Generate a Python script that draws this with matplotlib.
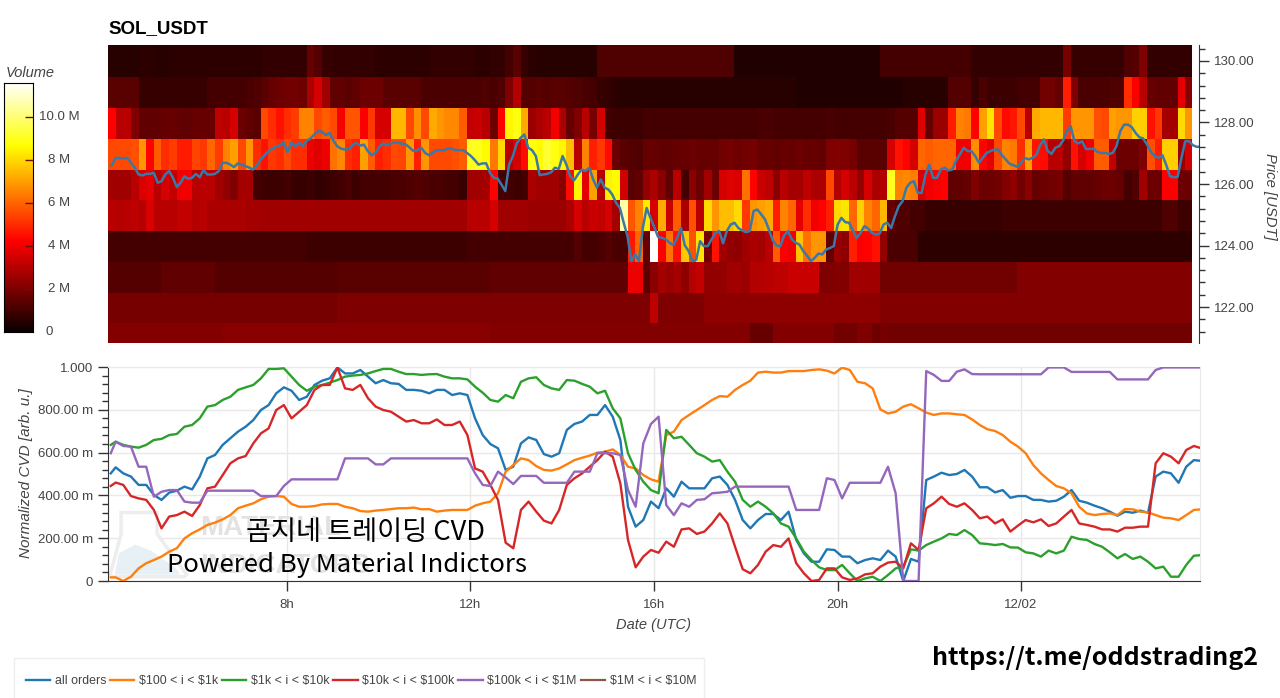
import numpy as np
import matplotlib
matplotlib.use("Agg")
import matplotlib.pyplot as plt
from matplotlib.patches import Polygon, Rectangle

W, H = 1280, 698
plt.rcParams['font.family'] = ['Liberation Sans', 'DejaVu Sans']

# volume per price level, one value per 10 minute column, in millions
heat_130 = [.5,.5,.5,.5,.6,.6,.5,.5,.6,.6,
            .6,.6,.6,.6,.6,.6,.6,.6,.6,.6,
            .7,.7,.7,.7,.7,.7,1.6,1.3,.8,.7,
            .7,.7,.7,.7,.7,.6,.6,.6,.6,.6,
            .6,.6,.7,.7,.7,.7,.7,.7,.6,.6,
            .7,.7,1.0,1.4,.8,.6,.5,.5,.5,.5,
            .5,.5,.5,.5,1.2,1.2,1.2,1.2,1.2,1.2,
            1.2,1.2,1.2,1.2,1.2,1.2,1.2,1.2,1.2,1.2,
            1.2,1.2,.4,.4,.4,.4,.4,.4,.4,.4,
            .4,.4,.4,.4,.4,.4,.4,.4,.4,.4,
            .4,1.0,1.0,1.0,1.0,1.0,1.0,1.0,1.0,1.0,
            1.0,1.0,1.0,.7,.7,.7,.7,.7,.7,.7,
            .7,.7,.7,.7,.7,1.9,.8,.8,.8,.8,
            .8,.8,.8,1.2,1.3,2.0,.7,.7,.7,.7,
            .7,.7]
heat_129 = [1.4,1.4,1.4,1.4,.8,.8,.8,.8,.8,.8,
            .8,.8,.8,1.0,1.0,1.0,1.0,1.0,1.1,1.2,
            1.4,1.6,1.7,1.8,1.8,1.7,2.8,3.5,2.6,1.5,
            1.5,1.4,1.5,1.7,1.7,1.7,1.4,1.4,1.4,1.4,
            1.4,1.1,1.1,1.1,1.1,1.1,1.1,1.1,1.1,1.2,
            1.1,1.2,2.0,2.9,1.3,1.3,1.4,1.3,1.4,1.4,
            1.3,1.2,1.1,1.0,.8,.7,.6,.5,.5,.5,
            .5,.5,.5,.5,.5,.5,.5,.5,.5,.5,
            .5,.5,.5,.5,.5,.5,.5,.5,.5,.5,
            .4,.4,.4,.4,.4,.4,.4,.4,.4,.4,
            .4,.4,.4,.4,.5,.5,.5,.5,.5,.5,
            1.3,1.3,1.3,.8,1.1,.9,.9,.9,.9,1.0,
            1.0,1.0,1.8,1.8,1.6,4.8,2.0,1.1,1.1,1.1,
            1.1,1.2,1.2,5.0,4.2,3.0,1.6,1.5,1.5,1.5,
            3.8,2.2]
heat_128 = [4.2,3,3,2,1.5,1.5,1.5,1.6,1.6,1.5,
            1.5,1.6,1.6,1.6,3.1,3.0,3.5,1.7,1.5,1.4,
            5.5,5,4.5,5,5.3,6.5,6.5,5.5,5.8,5.5,
            4.1,5.7,5.7,4.2,5.2,3.5,3.5,7.4,7.4,5.5,
            6.7,5.5,7.2,6.8,6.6,6.6,5.8,3.2,3.3,3.0,
            1.7,4.3,8.5,8.8,7.2,2.5,2.8,3,4,2.8,
            1.6,2,3,1.9,3.5,1,.9,.9,.9,.9,
            1,1,1,1,1,1,1,1,1,1,
            1,1,1,1,1,1.1,1.1,1,1,1,
            1,1,1,1,1.1,1,1,1,1,1,
            1,1,1.1,1.3,1.3,1.3,3.7,1.6,2.5,2.5,
            4.7,6.5,6.3,4.3,7,8.2,5.5,4.4,4.6,5.5,
            3,7.2,7.4,7.4,7.4,5.3,6.8,6.8,6.8,5.6,
            5.5,7,6.8,6.8,7.8,7.8,4.5,5.2,2.7,2.7,
            8,6.8]
heat_127 = [5.5,5.5,5.5,5.6,6.8,4.3,5.8,5,5.3,4.7,
            4.7,5.4,5.2,6,5.3,6.5,7,5.5,6.8,5,
            4.5,5.2,5,5.5,5,5,3.9,3.7,3.9,6.2,
            6.6,5,4.8,7,5.8,4.8,5,5.5,5.4,6.8,
            4.8,6.8,5.5,5.5,5.5,5.6,5.8,9,9,8.6,
            6.3,8,3,3.5,4.4,8.8,8.6,9.2,8.8,8.5,
            7.5,3,6.5,4.8,5.2,4.4,1.7,1.4,1.3,1.2,
            1.6,1.6,1.5,1.5,1.6,1.6,1.7,1.6,1.6,1.6,
            1.8,1.9,1.7,1.8,1.9,1.6,1.6,1.5,1.6,1.6,
            1.7,1.6,1.6,1.5,2,2.1,2,1.9,1.4,1.4,
            1.4,1.4,3.5,4.5,4.3,3.5,6,5.8,6,6,
            6,4,4,6.7,4.3,3.8,5.5,6.5,6.3,5,
            7,4.5,4.4,3,3,2.4,4.5,3.5,4,5.8,
            5.8,3.2,1.7,1.7,1.7,2,5.6,4.8,7.8,7.8,
            2.5,3.5]
heat_126 = [2.6,2.6,2.6,3,3.6,3.8,3,3.5,3.2,4,
            4,3,3,3,2.6,2.4,2,2.7,2.7,1,
            .9,.9,.9,1,.8,.8,.9,.7,.8,.9,
            1,1.1,.9,1,1,1,1,1.1,1.1,1.2,
            1.3,1.2,1.1,1.1,1,1,.8,2.6,2.6,2.7,
            4.3,1,1,.9,1,2.8,2.6,2.6,2.6,2.2,
            4.4,8.5,3.8,7,3,8.4,8.6,3.4,1.4,1.5,
            2.4,2.8,2.2,1.5,3,1,2.2,1.7,2.6,1.7,
            3.5,3.7,3.6,6.2,4.3,3.3,3.1,2.2,3,2.7,
            2.7,3.1,2.8,2.8,5.5,2.9,3.5,3,2.4,3.5,
            2.8,2.9,9,6.5,6.6,6.4,3.6,4,4.2,4.3,
            1.5,1.5,1.6,2,1.7,1.7,1.8,2.1,2.3,1.8,
            2.2,1.6,1.7,1.8,1.9,1.3,1.5,1.5,1.5,1.6,
            1.7,1.7,1.6,1,1.2,2.6,1.7,1.7,4.2,4.2,
            1.7,1.7]
heat_125 = [3.0,2.9,3.0,3.1,2.9,3.6,3.0,3.0,3.0,3.2,
            3.2,2.9,3.0,2.8,2.8,2.8,2.8,2.8,2.7,2.7,
            2.6,2.6,2.6,2.6,2.6,2.6,2.6,2.6,2.6,2.6,
            2.6,2.6,2.6,2.6,2.6,2.6,2.6,2.6,2.6,2.6,
            2.6,2.6,2.6,2.6,2.6,2.6,2.6,3.0,3.0,3.0,
            3.5,2.6,2.6,2.6,2.6,2.5,2.5,2.5,2.5,2.5,
            2.8,3.5,3.0,3.3,3.2,3.5,2.7,10.6,5.7,6.5,
            8.3,3.5,7.2,3.3,5.8,2.8,5.6,3,8,6.8,
            7.5,7.5,8,5.2,6.8,7,7.2,4.7,6.5,6,
            3.8,5,4,4.3,4.8,8,8.2,6,7.8,6.5,
            6,7.4,1.6,1.2,1.2,1,1,.8,.8,.8,
            .8,.8,.8,.8,.8,.8,.8,.9,.9,.9,
            .9,.9,.9,.9,.9,.9,.9,.9,.9,.9,
            .9,.9,.9,.9,.9,.9,.9,.9,1.2,1.2,
            .9,.9]
heat_124 = [1,1,1,1,1,1,1,1,1,1,
            1,1,1,1,1,1,1,1,1,1,
            1,1,1,1,1,1,.9,.9,.9,.9,
            .9,.9,.9,.9,.9,.9,.9,.9,.9,.9,
            .9,.9,.9,.9,.9,.9,.9,1,1,1,
            1,1,1,1,1,1,1,1,1,1,
            1,1.3,1,1,1.1,1.3,1.1,1.1,4.6,6,
            1.6,11.6,4.2,6.2,4.5,7.7,5.6,8.2,1.9,4.5,
            2.6,2.4,2.3,2.6,2.8,2.7,3,5.8,4.2,4,
            7.6,6.2,6.8,6.8,1.5,2.5,2.3,4.8,4.2,4.3,
            4.5,2.4,1.1,1.1,1.1,1.1,.6,.6,.6,.6,
            .6,.6,.6,.6,.6,.6,.6,.6,.6,.6,
            .6,.6,.6,.6,.6,.6,.6,.6,.6,.6,
            .6,.6,.6,.6,.6,.6,.6,.6,.6,.6,
            .6,.6]
heat_123 = [1.3,1.3,1.3,1.3,1.3,1.3,1.3,1.5,1.5,1.5,
            1.5,1.5,1.5,1.5,1.3,1.3,1.3,1.3,1.3,1.3,
            1.3,1.3,1.3,1.3,1.3,1.3,1.3,1.3,1.3,1.3,
            1.4,1.4,1.4,1.4,1.4,1.4,1.4,1.4,1.4,1.4,
            1.4,1.4,1.4,1.4,1.4,1.4,1.4,1.4,1.4,1.4,
            1.5,1.5,1.5,1.5,1.5,1.5,1.5,1.5,1.5,1.5,
            1.5,1.5,1.5,1.5,1.5,1.5,1.5,1.5,3.9,3.9,
            1.4,2.2,2.7,2.5,2.7,2.3,2.9,3.2,2.4,2.4,
            2.4,2.6,2.6,2.5,2.9,2.9,3,3.1,3.1,3.3,
            3.3,3.3,3.3,2,2,2.1,2.1,2.6,2.6,2.6,
            2.6,1.8,1.8,1.8,1.8,1.8,1.8,1.8,1.8,1.8,
            1.8,1.8,1.8,1.8,1.8,1.8,1.8,1.8,1.8,2.1,
            2.1,2.1,2.1,2.1,2.1,2.1,2.1,2.1,2.1,2.1,
            2.1,2.1,2.1,2.1,2.1,2.1,2.1,2.1,2.1,2.1,
            2.1,2.1]
heat_122 = [1.9,1.9,1.9,1.9,1.9,1.9,1.9,1.9,1.9,1.9,
            1.9,1.9,1.9,1.9,1.9,1.9,1.9,1.9,1.9,1.9,
            1.9,1.9,1.9,1.9,1.9,1.9,1.9,1.9,1.9,1.9,
            2,2,2,2,2,2,2,2,2,2,
            2,2,2,2,2,2,2,2,2,2,
            2,2,2,2,2,2,2,2,2,2,
            2,2,2,2,2,2,2,2,2,2,
            2,3.1,2,2,2,2,2,2,2.3,2.3,
            2.3,2.3,2.3,2.3,2.3,2.3,2.3,2.3,2.3,2.3,
            2.3,2.3,2.3,2.3,2.3,2.3,2.3,2.3,2.3,2.3,
            2.3,2.1,2.1,2.1,2.1,2.1,2.1,2.1,2.1,2.1,
            2.1,2.1,2.1,2.1,2.1,2.1,2.1,2.1,2.1,2.1,
            2.1,2.1,2.1,2.1,2.1,2.1,2.1,2.1,2.1,2.1,
            2.1,2.1,2.1,2.1,2.1,2.1,2.1,2.1,2.1,2.1,
            2.1,2.1]
heat_121 = [2.1,2.1,2.1,2.1,2.1,2.1,2.1,2.1,2.1,2.1,
            2.1,2.1,2.1,2.1,2.1,2.2,2.2,2.2,2.2,2.2,
            2.2,2.2,2.2,2.2,2.2,2.2,2.2,2.2,2.2,2.2,
            2.2,2.2,2.2,2.2,2.2,2.2,2.2,2.2,2.2,2.2,
            2.2,2.2,2.2,2.2,2.2,2.2,2.2,2.2,2.2,2.2,
            2.1,2.1,2.1,2.1,2.1,2.1,2.1,2.1,2.1,2.1,
            2.1,2.1,2.1,2.1,2.1,2.1,2.1,2.1,2.1,2.1,
            2.1,2.1,2.1,2.1,2.1,2.1,2.1,2.1,2.1,2.1,
            2.1,2.1,2.1,2.1,1.6,1.6,1.6,2.1,2.1,2.1,
            2.1,2.1,2.1,2.1,2.1,1.8,1.8,1.8,2.0,2.0,
            1.7,1.9,1.8,1.8,1.8,1.8,1.8,1.8,1.8,1.8,
            1.8,1.8,1.8,1.8,1.8,1.8,1.8,1.8,1.8,1.8,
            1.8,1.8,1.8,1.8,1.8,1.8,1.8,1.8,1.8,1.8,
            1.8,1.8,1.8,1.8,1.8,1.8,1.8,1.8,1.8,1.8,
            1.8,1.8]

# price, 5 minute steps
price = [126.61,126.61,126.85,126.85,126.83,126.85,126.69,126.53,126.31,126.28,
         126.33,126.33,126.36,126.04,126.09,126.31,126.42,126.2,125.9,126.04,
         126.25,126.17,126.2,126.33,126.22,126.45,126.31,126.31,126.33,126.42,
         126.69,126.69,126.63,126.55,126.67,126.63,126.58,126.53,126.47,126.61,
         126.8,126.94,127.07,127.14,127.21,127.26,127.34,127.04,127.34,127.23,
         127.34,127.23,127.41,127.48,127.61,127.72,127.7,127.59,127.66,127.41,
         127.23,127.15,127.12,127.14,127.26,127.34,127.25,127.28,127.07,126.94,
         127.01,127.2,127.32,127.26,127.31,127.36,127.34,127.31,127.28,127.18,
         127.07,127.1,127.18,127.01,126.94,127.01,127.1,127.1,127.1,127.15,
         127.15,127.1,127.1,127.1,127.01,126.91,126.78,126.63,126.67,126.67,
         126.36,126.2,126.18,125.98,125.77,126.63,126.91,127.32,127.5,127.61,
         127.18,127.1,126.91,126.29,126.31,126.33,126.38,126.53,126.49,126.91,
         126.63,126.25,126.12,126.31,126.47,126.42,126.53,126.15,125.88,126.15,
         125.88,125.82,125.66,125.39,125.22,124.74,124.3,123.49,123.71,123.49,
         124.57,125.22,124.9,124.6,124.28,124.25,124.2,124.09,124.01,124.25,
         124.57,124,123.82,123.49,123.54,124.14,123.98,123.98,124.2,124.41,
         124.47,124.07,124.47,124.68,124.74,124.57,124.49,124.43,124.47,125.12,
         125.17,125.01,124.85,124.52,124.17,124,123.98,124.33,124.47,124.2,
         124.09,124.03,123.82,123.67,123.49,123.6,123.74,123.71,123.87,123.92,
         123.98,124.68,124.9,124.76,124.74,124.49,124.25,124.41,124.63,124.55,
         124.41,124.36,124.39,124.68,124.74,124.57,124.95,125.28,125.44,125.88,
         126.04,126.09,125.71,125.71,126.31,126.63,126.2,126.2,126.47,126.53,
         126.44,126.47,126.76,126.96,127.18,127.07,127.07,126.91,126.69,126.85,
         127.01,127.07,127.12,127.12,126.94,126.8,126.66,126.61,126.56,126.69,
         126.85,126.8,126.85,126.94,127.26,127.45,127.07,126.98,127.18,127.23,
         127.41,127.72,127.88,127.39,127.32,127.39,127.14,127.14,127.15,127.04,
         127.01,127.01,126.98,127.01,127.23,127.72,127.93,127.93,127.85,127.66,
         127.52,127.48,127.28,127.05,126.91,126.85,126.94,126.63,126.25,126.22,
         126.23,126.85,127.39,127.39,127.26,127.21,127.21]

cvd_all = [.503,.531,.503,.488,.449,.449,.402,.379,.413,.422,
           .441,.428,.488,.573,.589,.636,.667,.698,.721,.752,
           .799,.822,.877,.905,.889,.846,.861,.916,.936,.947,
           .998,.970,.970,.986,.955,.924,.939,.924,.921,.893,
           .893,.889,.877,.893,.893,.869,.877,.869,.760,.682,
           .640,.620,.519,.534,.643,.671,.659,.593,.581,.597,
           .706,.734,.745,.776,.776,.822,.768,.659,.347,.254,
           .285,.371,.340,.433,.394,.464,.433,.433,.433,.480,
           .488,.449,.379,.285,.246,.285,.313,.313,.285,.324,
           .192,.129,.090,.090,.148,.145,.114,.114,.083,.098,
           .106,.098,.142,.114,0,.103,.090,.472,.488,.506,
           .495,.500,.519,.488,.438,.438,.414,.425,.389,.397,
           .397,.379,.379,.371,.375,.394,.425,.375,.366,.352,
           .340,.324,.305,.324,.319,.329,.319,.488,.511,.503,
           .459,.534,.565,.561]
cvd_100_1k = [.017,.017,0,.020,.059,.083,.098,.114,.137,.153,
              .199,.223,.241,.262,.273,.288,.308,.340,.352,.363,
              .382,.394,.397,.394,.360,.347,.347,.350,.358,.360,
              .360,.347,.340,.327,.324,.329,.332,.336,.340,.340,
              .343,.335,.336,.324,.329,.332,.332,.332,.352,.363,
              .371,.410,.511,.542,.573,.565,.537,.519,.516,.526,
              .545,.565,.576,.586,.600,.604,.615,.589,.534,.526,
              .495,.475,.464,.682,.698,.752,.776,.799,.822,.846,
              .864,.861,.893,.916,.936,.974,.978,.974,.974,.981,
              .981,.981,.986,.989,.983,.970,.997,.986,.931,.924,
              .900,.802,.783,.791,.815,.826,.807,.787,.776,.783,
              .783,.779,.776,.755,.729,.709,.701,.682,.651,.628,
              .597,.542,.503,.472,.444,.433,.410,.347,.316,.308,
              .313,.316,.308,.336,.335,.324,.321,.308,.296,.293,
              .285,.308,.332,.335]
cvd_1k_10k = [.636,.651,.636,.628,.623,.636,.659,.664,.682,.687,
              .721,.729,.760,.815,.822,.846,.861,.893,.905,.916,
              .947,.991,.991,.994,.955,.916,.889,.908,.916,.927,
              .939,.955,.960,.963,.970,.981,.991,.991,.978,.967,
              .967,.963,.966,.967,.955,.947,.947,.942,.908,.880,
              .846,.838,.869,.854,.931,.947,.952,.916,.900,.893,
              .939,.936,.921,.908,.877,.889,.807,.760,.597,.519,
              .464,.425,.410,.706,.667,.674,.636,.597,.581,.558,
              .565,.511,.464,.379,.347,.371,.347,.316,.269,.254,
              .199,.137,.098,.064,.051,.051,.075,.036,0,.012,
              .020,0,.028,.059,.067,.148,.142,.168,.184,.199,
              .220,.215,.238,.215,.176,.173,.168,.173,.157,.156,
              .134,.129,.114,.142,.129,.142,.207,.196,.192,.173,
              .160,.134,.106,.126,.103,.114,.090,.059,.067,.020,
              .020,.075,.118,.121]
cvd_10k_100k = [.444,.460,.449,.397,.386,.379,.332,.246,.301,.308,
                .324,.304,.355,.433,.441,.495,.550,.573,.584,.643,
                .690,.713,.799,.822,.760,.791,.822,.893,.916,.916,
                .998,.900,.893,.916,.854,.815,.799,.791,.768,.745,
                .752,.737,.737,.755,.729,.729,.745,.682,.526,.511,
                .449,.379,.179,.153,.332,.371,.324,.282,.269,.332,
                .449,.480,.503,.534,.565,.604,.581,.456,.192,.064,
                .114,.145,.132,.184,.160,.241,.246,.220,.231,.269,
                .316,.269,.160,.055,.036,.075,.137,.168,.160,.199,
                .083,.036,0,.005,.059,.059,.017,.005,.012,.031,
                .036,.067,.086,.090,.059,.176,.145,.340,.363,.394,
                .360,.347,.363,.332,.293,.301,.269,.288,.231,.259,
                .285,.274,.288,.257,.269,.301,.332,.269,.262,.254,
                .241,.241,.231,.249,.249,.254,.254,.550,.597,.581,
                .550,.612,.631,.620]
cvd_100k_1m = [.597,.651,.631,.628,.534,.534,.394,.417,.425,.425,
               .371,.366,.366,.422,.422,.422,.422,.422,.422,.422,
               .397,.397,.397,.444,.475,.475,.475,.475,.475,.475,
               .475,.573,.573,.573,.573,.545,.545,.573,.573,.573,
               .573,.573,.573,.573,.573,.573,.573,.573,.503,.449,
               .444,.511,.484,.453,.491,.491,.491,.459,.459,.459,
               .459,.511,.511,.511,.597,.597,.597,.589,.425,.347,
               .643,.734,.768,.355,.308,.363,.347,.379,.382,.410,
               .413,.417,.441,.441,.441,.441,.441,.441,.441,.441,
               .332,.332,.332,.332,.480,.472,.386,.459,.459,.459,
               .459,.459,.534,.410,0,0,0,.981,.963,.935,
               .935,.978,.989,.967,.966,.966,.966,.966,.966,.966,
               .966,.966,.966,.998,.998,.998,.977,.977,.977,.977,
               .977,.977,.942,.942,.942,.942,.942,.986,.998,.998,
               .998,.998,.998,.998]

series_names = ['all orders', r'\$100 < i < \$1k', r'\$1k < i < \$10k',
                r'\$10k < i < \$100k', r'\$100k < i < \$1M', r'\$1M < i < \$10M']
series_colors = ['#1f77b4', '#ff7f0e', '#2ca02c', '#d62728', '#9467bd', '#8c564b']
cvd_series = [cvd_all, cvd_100_1k, cvd_1k_10k, cvd_10k_100k, cvd_100k_1m, []]

# hours since midnight of 12/01
hours = 4.1 + np.arange(144) / 6
cvd_hours = hours.copy()
cvd_hours[0] = 4.16
price_hours = 4.1 + np.arange(len(price)) / 12
price_hours[0] = 4.18
xlim = (4.1, 27.9)
time_ticks = [8, 12, 16, 20, 24]
time_labels = ['8h', '12h', '16h', '20h', '12/02']


def rect(left, top, right, bottom):
    return [left / W, 1 - bottom / H, (right - left) / W, (bottom - top) / H]


fig = plt.figure(figsize=(W / 100, H / 100), dpi=100, facecolor='white')
grey = '#444444'

# heatmap with price
ax1 = fig.add_axes(rect(108, 45, 1199, 343))
heat = np.array([heat_121, heat_122, heat_123, heat_124, heat_125,
                 heat_126, heat_127, heat_128, heat_129, heat_130])
edges_x = hours[:143].copy()
edges_x[-1] = 27.74
edges_y = np.array([120.47, 121.47, 122.47, 123.47, 124.47, 125.47, 126.47, 127.47,
                    128.47, 129.47, 130.6])
ax1.pcolormesh(edges_x, edges_y, heat, cmap='hot', vmin=0, vmax=11.6,
               shading='flat', antialiased=False)
ax1.plot(price_hours, price, color='#3a78a8', lw=1.8, solid_joinstyle='round')
ax1.set_xlim(*xlim)
ax1.set_ylim(120.83, 130.52)
ax1.set_xticks([])
ax1.yaxis.tick_right()
ax1.set_yticks([122, 124, 126, 128, 130], ['122.00', '124.00', '126.00', '128.00', '130.00'])
ax1.set_yticks(np.arange(121.2, 130.5, 0.4), minor=True)
ax1.tick_params(axis='y', which='major', length=7, width=1, color='#333333',
                labelcolor=grey, labelsize=9.5, pad=4)
ax1.tick_params(axis='y', which='minor', length=4, width=1, color='#333333')
for side in ['left', 'top', 'bottom']:
    ax1.spines[side].set_visible(False)
ax1.spines['right'].set_color('#333333')
fig.text(108 / W, 1 - 29 / H, 'SOL_USDT', fontsize=13.5, fontweight='bold',
         color='black', va='center', ha='left')
fig.text(1270 / W, 1 - 196 / H, 'Price [USDT]', rotation=270, style='italic',
         fontsize=10.7, color=grey, va='center', ha='center')

# colorbar
cax = fig.add_axes(rect(4, 83, 33, 332))
bar = np.linspace(0, 11.6, 256).reshape(-1, 1)
cax.imshow(bar, origin='lower', aspect='auto', cmap='hot', vmin=0, vmax=11.6,
           extent=(0, 1, 0, 11.6))
bar_ticks = [2, 4, 6, 8, 10]
bar_labels = ['2 M', '4 M', '6 M', '8 M', '10.0 M']
cax.set_xticks([])
cax.yaxis.tick_right()
cax.set_yticks(bar_ticks, [])
cax.tick_params(axis='y', direction='in', length=6, width=1, color='#701000')
for val, lab in zip(bar_ticks, bar_labels):
    cax.text(55 / 29, val, lab, transform=cax.get_yaxis_transform(),
             ha='center', va='center', fontsize=9.5, color=grey)
cax.text(45.5 / 29, 0, '0', transform=cax.get_yaxis_transform(),
         ha='center', va='center', fontsize=9.5, color=grey)
fig.text(6 / W, 1 - 73 / H, 'Volume', style='italic', fontsize=10.5, color=grey,
         va='center', ha='left')

# CVD lines, faint watermark first
ax2 = fig.add_axes(rect(108, 367, 1200, 581))
ax2.add_patch(Polygon([[0.012, 0.32], [0.045, 0.32], [0.045, 0.22], [0.072, 0.03],
                       [0.070, 0.02], [0.004, 0.02], [0.002, 0.03], [0.012, 0.22]],
                      closed=True, transform=ax2.transAxes, facecolor='white',
                      edgecolor='#ededed', lw=2.5, zorder=1))
ax2.add_patch(Polygon([[0.010, 0.13], [0.025, 0.17], [0.040, 0.14], [0.062, 0.06],
                       [0.066, 0.03], [0.006, 0.03]],
                      closed=True, transform=ax2.transAxes, facecolor='#e6f0f5',
                      edgecolor='none', zorder=1))
ax2.text(92 / 1092, 0.248, 'MATERIAL', transform=ax2.transAxes, fontsize=20,
         fontweight='bold', color='#e2e2e2', va='center', ha='left', zorder=1)
ax2.text(92 / 1092, 0.07, 'INDICATORS', transform=ax2.transAxes, fontsize=20,
         fontweight='bold', color='#e2e2e2', va='center', ha='left', zorder=1)
for name, color, values in zip(series_names, series_colors, cvd_series):
    if len(values) == 0:
        ax2.plot([], [], color=color, lw=1.6, label=name)
    else:
        ax2.plot(cvd_hours, values, color=color, lw=1.7, label=name, zorder=3)
ax2.set_xlim(*xlim)
ax2.set_ylim(0, 1)
ax2.set_xticks(time_ticks, time_labels)
ax2.set_yticks([0, .2, .4, .6, .8, 1],
               ['0', '200.00 m', '400.00 m', '600.00 m', '800.00 m', '1.000'])
ax2.set_yticks(np.arange(0.04, 1, 0.04), minor=True)
ax2.grid(True, which='major', color='#e8e8e8', lw=1)
ax2.set_axisbelow(True)
ax2.tick_params(axis='both', which='major', length=7, width=1, color='#333333',
                labelcolor=grey, labelsize=9.5, pad=6)
ax2.tick_params(axis='y', which='major', pad=4)
ax2.tick_params(axis='y', which='minor', length=4, width=1, color='#333333')
ax2.spines['top'].set_color('#e8e8e8')
ax2.spines['right'].set_color('#e8e8e8')
ax2.spines['left'].set_color('#333333')
ax2.spines['bottom'].set_color('#333333')
fig.text(654 / W, 1 - 625 / H, 'Date (UTC)', style='italic', fontsize=10.5, color=grey,
         va='center', ha='center')
fig.text(26 / W, 1 - 473 / H, 'Normalized CVD [arb. u.]', rotation=90, style='italic',
         fontsize=11, color=grey, va='center', ha='center')

# legend box runs off the bottom edge of the figure
fig.add_artist(Rectangle((14 / W, -0.02), 690 / W, 1 - 658 / H + 0.02,
                         transform=fig.transFigure, facecolor='white',
                         edgecolor='#eeeeee', lw=1))
leg = fig.legend(*ax2.get_legend_handles_labels(), loc='center left',
                 bbox_to_anchor=(26 / W, 1 - 681 / H), ncol=6, fontsize=8.9,
                 frameon=False, borderpad=0, borderaxespad=0,
                 handlelength=1.95, handletextpad=0.4, columnspacing=0.3,
                 labelcolor=grey)

# text put on top of the chart
cjk = ['Noto Sans CJK KR', 'DejaVu Sans']
fig.text(365 / W, 1 - 533 / H, '곰지네 트레이딩 CVD', family=cjk, fontsize=19.6,
         color='black', ha='center', va='center', zorder=10)
fig.text(347 / W, 1 - 565 / H, 'Powered By Material Indictors', family=cjk, fontsize=18.5,
         color='black', ha='center', va='center', zorder=10)
fig.text(1095 / W, 1 - 658 / H, 'https://t.me/oddstrading2', family=cjk, fontsize=18,
         fontweight='bold', color='black', ha='center', va='center', zorder=10)

fig.savefig('out.png', dpi=100)
